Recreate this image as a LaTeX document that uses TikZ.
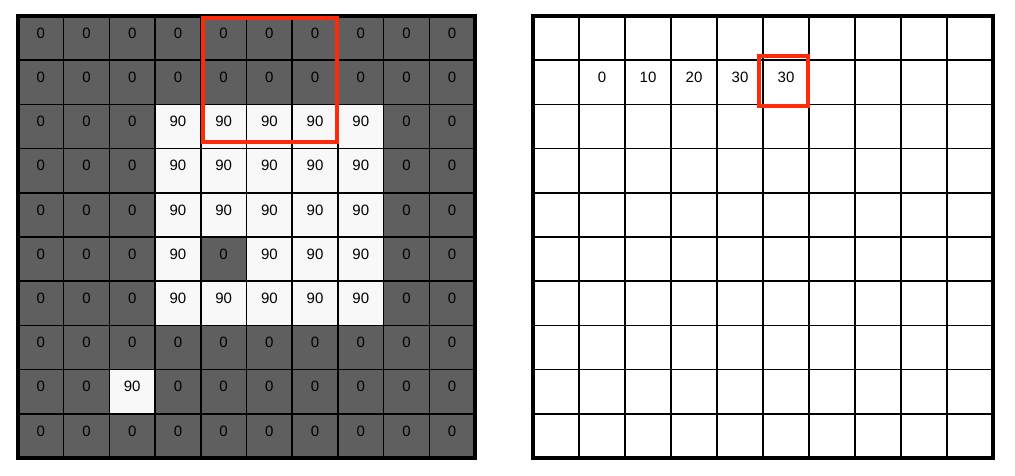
\documentclass[tikz,border=0pt]{standalone}
\usepackage{fontspec}
\setmainfont{Liberation Sans}
\definecolor{cellgray}{HTML}{5F5F5F}
\definecolor{cellwhite}{HTML}{F8F8F8}
\definecolor{boxred}{HTML}{FF2A0A}
\tikzset{
  gridline/.style={line width=1.5pt, black},
  gridframe/.style={line width=3.5pt, black},
  redbox/.style={line width=4pt, boxred},
  val/.style={font=\fontsize{15}{17}\selectfont, inner sep=0pt, yshift=5pt}
}
\begin{document}
\begin{tikzpicture}[x=1pt, y=-1pt]
\useasboundingbox (0,0) rectangle (1015,475);

% input image
\begin{scope}[shift={(18,16)}, x=45.7pt, y=-44.2pt]
\fill[cellgray] (0,0) rectangle (10,10);
\fill[cellwhite] (3,2) rectangle (8,7);
\fill[cellgray] (4,5) rectangle (5,6);
\fill[cellwhite] (2,8) rectangle (3,9);
\foreach \i in {1,...,9} {
  \draw[gridline] (\i,0) -- (\i,10);
  \draw[gridline] (0,\i) -- (10,\i);
}
\draw[gridframe] (0,0) rectangle (10,10);
\foreach \row [count=\r from 0] in {
  {0,0,0,0,0,0,0,0,0,0},
  {0,0,0,0,0,0,0,0,0,0},
  {0,0,0,90,90,90,90,90,0,0},
  {0,0,0,90,90,90,90,90,0,0},
  {0,0,0,90,90,90,90,90,0,0},
  {0,0,0,90,0,90,90,90,0,0},
  {0,0,0,90,90,90,90,90,0,0},
  {0,0,0,0,0,0,0,0,0,0},
  {0,0,90,0,0,0,0,0,0,0},
  {0,0,0,0,0,0,0,0,0,0}}
  \foreach \v [count=\c from 0] in \row
    \node[val] (in-\r-\c) at (\c+0.5,\r+0.5) {\v};
\draw[redbox] (4.04,0.05) rectangle (6.98,2.85);
\end{scope}

% output image
\begin{scope}[shift={(533,16)}, x=46pt, y=-44.2pt]
\foreach \i in {1,...,9} {
  \draw[gridline] (\i,0) -- (\i,10);
  \draw[gridline] (0,\i) -- (10,\i);
}
\draw[gridframe] (0,0) rectangle (10,10);
\foreach \v [count=\c] in {0,10,20,30,30}
  \node[val] (out-1-\c) at (\c+0.5,1.5) {\v};
\draw[redbox] (4.91,0.91) rectangle (5.98,2.04);
\end{scope}

\end{tikzpicture}
\end{document}
